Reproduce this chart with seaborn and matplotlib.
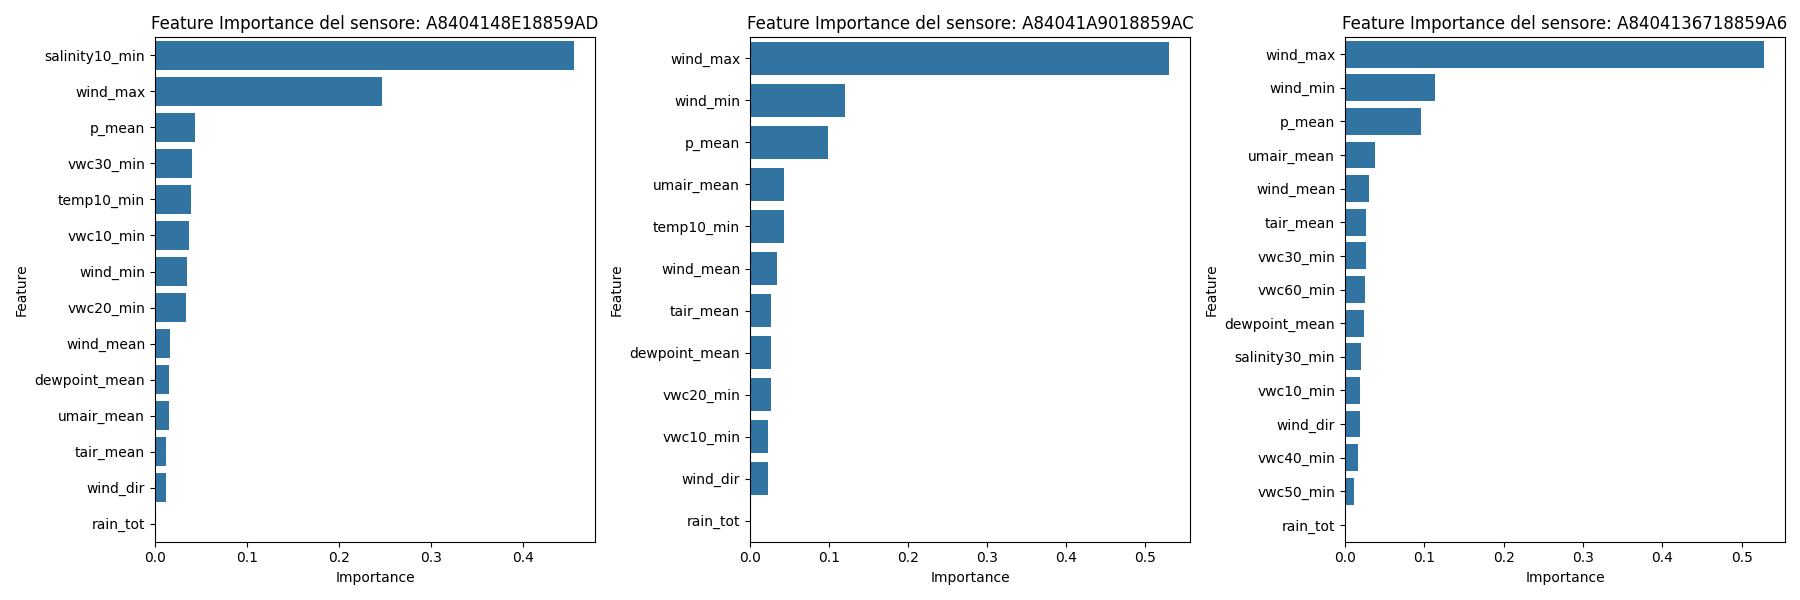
import pandas as pd
import seaborn as sns
import matplotlib
matplotlib.use("Agg")
import matplotlib.pyplot as plt

sensors = ["A8404148E18859AD", "A84041A9018859AC", "A8404136718859A6"]

feat_1 = ["salinity10_min", "wind_max", "p_mean", "vwc30_min", "temp10_min", "vwc10_min",
          "wind_min", "vwc20_min", "wind_mean", "dewpoint_mean", "umair_mean", "tair_mean",
          "wind_dir", "rain_tot"]
imp_1 = [0.455, 0.246, 0.0434, 0.0399, 0.0388, 0.0366, 0.0344, 0.0333, 0.016, 0.0149,
         0.0149, 0.0116, 0.0116, 0.0]

feat_2 = ["wind_max", "wind_min", "p_mean", "umair_mean", "temp10_min", "wind_mean",
          "tair_mean", "dewpoint_mean", "vwc20_min", "vwc10_min", "wind_dir", "rain_tot"]
imp_2 = [0.531, 0.120, 0.0986, 0.0427, 0.0427, 0.0338, 0.0262, 0.0262, 0.0262, 0.0224,
         0.0224, 0.0]

feat_3 = ["wind_max", "wind_min", "p_mean", "umair_mean", "wind_mean", "tair_mean",
          "vwc30_min", "vwc60_min", "dewpoint_mean", "salinity30_min", "vwc10_min",
          "wind_dir", "vwc40_min", "vwc50_min", "rain_tot"]
imp_3 = [0.528, 0.1135, 0.0957, 0.0377, 0.0298, 0.026, 0.026, 0.025, 0.0235, 0.020,
         0.019, 0.019, 0.017, 0.011, 0.0]

panels = [(feat_1, imp_1), (feat_2, imp_2), (feat_3, imp_3)]

fig, axes = plt.subplots(1, 3, figsize=(18, 6))

for ax, sensor, (feats, imps) in zip(axes, sensors, panels):
    df = pd.DataFrame({"Feature": feats, "Importance": imps})
    sns.barplot(data=df, x="Importance", y="Feature", ax=ax)
    ax.set_title(f"Feature Importance del sensore: {sensor}")

plt.tight_layout()
plt.savefig("out.png", dpi=100)
